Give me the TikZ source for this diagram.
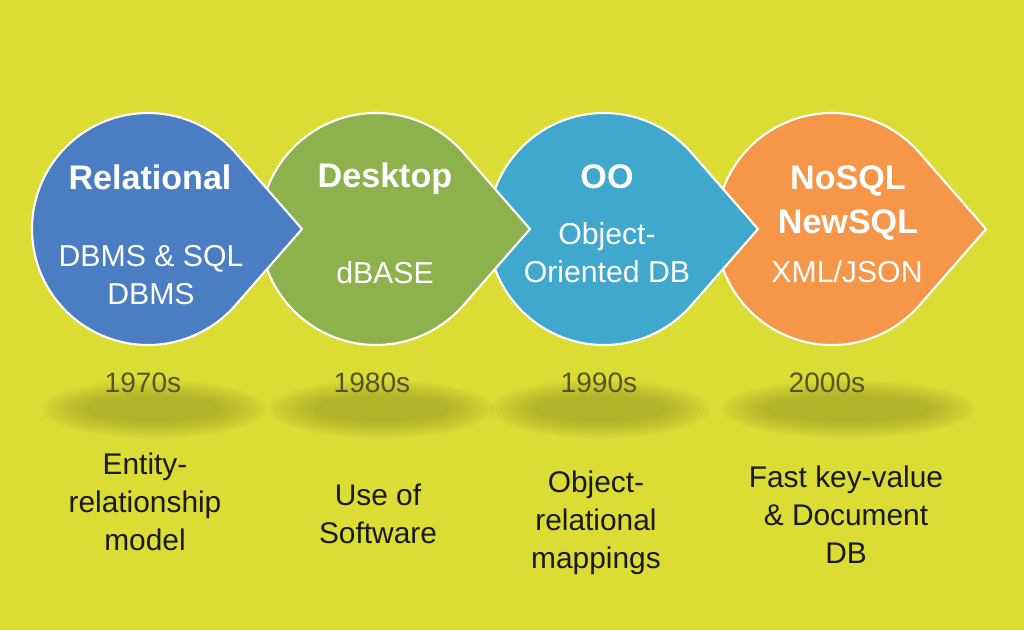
\documentclass[tikz,border=0pt]{standalone}
\usepackage{fontspec}
\setmainfont{Liberation Sans}
\usepackage{xcolor}
\usepackage{tikz}
\usetikzlibrary{positioning, calc}

\definecolor{bgc}{RGB}{219,221,52}
\definecolor{shadowc}{RGB}{150,150,40}
\definecolor{blueDB}{RGB}{74,125,194}
\definecolor{greenDB}{RGB}{141,178,77}
\definecolor{tealDB}{RGB}{64,168,204}
\definecolor{orangeDB}{RGB}{245,150,72}
\definecolor{yearc}{RGB}{85,85,40}

\begin{document}
\begin{tikzpicture}[
  leaf/.style={draw=white, line width=1.2pt},
  blob/.style={fill=shadowc, opacity=0.07},
  title/.style={font=\fontsize{19.4}{24.5}\selectfont\bfseries, text=white, align=center, anchor=base},
  sub/.style={font=\fontsize{17.2}{21.6}\selectfont, text=white, align=center, anchor=base},
  year/.style={font=\fontsize{16}{19}\selectfont, text=yearc, anchor=base},
  desc/.style={font=\fontsize{17}{21.5}\selectfont, text=black!90, align=center, anchor=base}
]
  \fill[bgc] (0,0) rectangle (20.48,12.6);

  % soft shadows under the leaves
  \foreach \k in {0,...,9} {
    \fill[blob] (3.08,4.42)  ellipse ({2.25-0.1*\k} and {0.58-0.035*\k});
    \fill[blob] (7.62,4.42)  ellipse ({2.25-0.1*\k} and {0.58-0.035*\k});
    \fill[blob] (12.00,4.42) ellipse ({2.2-0.1*\k} and {0.58-0.035*\k});
    \fill[blob] (16.96,4.42) ellipse ({2.55-0.1*\k} and {0.58-0.035*\k});
  }

  % leaves, last one first
  \filldraw[leaf, fill=orangeDB] (16.64,8.02) ++(41.1:2.32) arc[start angle=41.1, end angle=318.9, radius=2.32] -- (19.72,8.02) -- cycle;
  \filldraw[leaf, fill=tealDB]   (12.08,8.02) ++(41.1:2.32) arc[start angle=41.1, end angle=318.9, radius=2.32] -- (15.16,8.02) -- cycle;
  \filldraw[leaf, fill=greenDB]  (7.52,8.02)  ++(41.1:2.32) arc[start angle=41.1, end angle=318.9, radius=2.32] -- (10.60,8.02) -- cycle;
  \filldraw[leaf, fill=blueDB]   (2.96,8.02)  ++(41.1:2.32) arc[start angle=41.1, end angle=318.9, radius=2.32] -- (6.04,8.02) -- cycle;

  \node[title] (relational) at (3.00,8.82)  {Relational};
  \node[sub]   (sqlsub)     at (3.02,6.52)  {DBMS \& SQL\\DBMS};
  \node[title] (desktop)    at (7.70,8.86)  {Desktop};
  \node[sub]   (dbase)      at (7.70,6.94)  {dBASE};
  \node[title] (oo)         at (12.14,8.84) {OO};
  \node[sub]   (oodb)       at (12.14,6.96) {Object-\\Oriented DB};
  \node[title] (nosql)      at (16.96,7.94) {NoSQL\\NewSQL};
  \node[sub]   (json)       at (16.94,6.96) {XML/JSON};

  \node[year] (y70) at (2.86,4.76)  {1970s};
  \node[year] (y80) at (7.44,4.76)  {1980s};
  \node[year] (y90) at (11.98,4.76) {1990s};
  \node[year] (y00) at (16.54,4.76) {2000s};

  \node[desc] (er)      at (2.90,1.60)  {Entity-\\relationship\\model};
  \node[desc] (soft)    at (7.56,1.74)  {Use of\\Software};
  \node[desc] (orm)     at (11.92,1.24) {Object-\\relational\\mappings};
  \node[desc] (keyval)  at (16.92,1.34) {Fast key-value\\\& Document\\DB};
\end{tikzpicture}
\end{document}
